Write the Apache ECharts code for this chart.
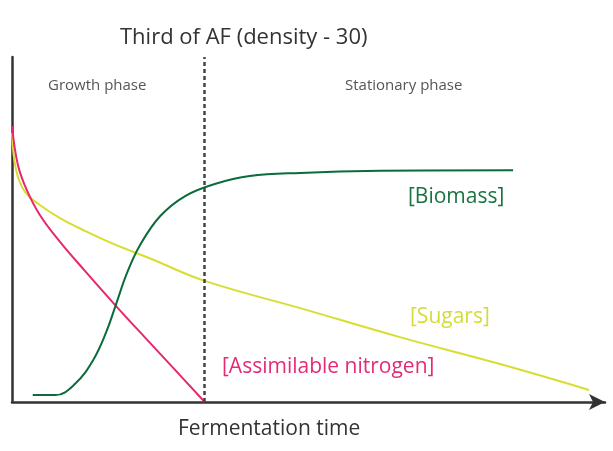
<!DOCTYPE html>
<html lang="en">
<head>
    <meta charset="UTF-8">
    <title>Third of AF (density - 30)</title>
    <script src="https://cdn.jsdelivr.net/npm/echarts@6/dist/echarts.min.js"></script>
    <style>
        html, body { margin: 0; padding: 0; background: #fff; }
        #main { width: 613px; height: 451px; }
    </style>
</head>
<body>
    <div id="main"></div>
    <script>
        // fermentation time (0-100) / relative level (0-100)
        var nitrogenTime = [0, 1, 2.5, 4.7, 8.1, 12.3, 17.4, 22.8, 27.5, 32.5];
        var nitrogenLevel = [80, 68.7, 61.4, 54.2, 46.4, 38, 28.1, 18, 9.3, 0];

        var sugarsTime = [0, 0.7, 2.2, 4.7, 8.1, 12.3, 17.4, 23.3, 32.5, 48.6, 65.4, 82.3, 97.3];
        var sugarsLevel = [78, 67.2, 60.9, 57.1, 53.3, 49.6, 45.6, 41.6, 35.1, 27.2, 18.8, 11, 3.5];

        var biomassTime = [3.5, 7.3, 10.6, 13.7, 15.9, 17.5, 19.4, 21.6, 25, 29.2, 34.2, 40.1, 48.6, 62.1, 84.5];
        var biomassLevel = [2, 2, 5.2, 12.2, 20.3, 28.1, 37.4, 45.5, 53.9, 59.7, 63.2, 65.5, 66.4, 67, 67.2];

        var phaseLimit = 32.5;

        function pairs(xs, ys) {
            return xs.map(function (x, i) { return [x, ys[i]]; });
        }

        function txt(s, x, y, size, color) {
            return { type: 'text', left: x, top: y, style: { text: s, fill: color, font: size + 'px "Open Sans"' } };
        }

        var myChart = echarts.init(document.getElementById('main'));

        var option = {
            animation: false,
            grid: { left: 12, right: 8, top: 57, bottom: 49 },
            xAxis: {
                type: 'value',
                min: 0,
                max: 100,
                axisLine: {
                    lineStyle: { color: '#333', width: 2.5 },
                    symbol: ['none', 'arrow'],
                    symbolSize: [12, 16]
                },
                axisTick: { show: false },
                axisLabel: { show: false },
                splitLine: { show: false }
            },
            yAxis: {
                type: 'value',
                min: 0,
                max: 100,
                axisLine: { show: true, lineStyle: { color: '#333', width: 2.5 } },
                axisTick: { show: false },
                axisLabel: { show: false },
                splitLine: { show: false }
            },
            graphic: [
                txt('Third of AF (density - 30)', 120, 27, 22, '#333'),
                txt('Growth phase', 48, 78, 15, '#555'),
                txt('Stationary phase', 345, 78, 15, '#555'),
                txt('[Biomass]', 408, 187, 21, '#19743f'),
                txt('[Sugars]', 410, 307, 21, '#d4db3a'),
                txt('[Assimilable nitrogen]', 222, 357, 21, '#e52b74'),
                txt('Fermentation time', 178, 419, 21, '#333')
            ],
            series: [{
                name: 'Sugars',
                type: 'line',
                smooth: 0.4,
                showSymbol: false,
                data: pairs(sugarsTime, sugarsLevel),
                lineStyle: { color: '#d7de31', width: 2 }
            }, {
                name: 'Assimilable nitrogen',
                type: 'line',
                smooth: 0.4,
                showSymbol: false,
                data: pairs(nitrogenTime, nitrogenLevel),
                lineStyle: { color: '#e6286e', width: 2 }
            }, {
                name: 'Biomass',
                type: 'line',
                smooth: 0.4,
                showSymbol: false,
                data: pairs(biomassTime, biomassLevel),
                lineStyle: { color: '#0b6b3a', width: 2 },
                markLine: {
                    silent: true,
                    symbol: 'none',
                    label: { show: false },
                    lineStyle: { color: '#444', width: 2.5, type: [4, 3] },
                    data: [{ xAxis: phaseLimit }]
                }
            }]
        };
        myChart.setOption(option);
    </script>
</body>
</html>
